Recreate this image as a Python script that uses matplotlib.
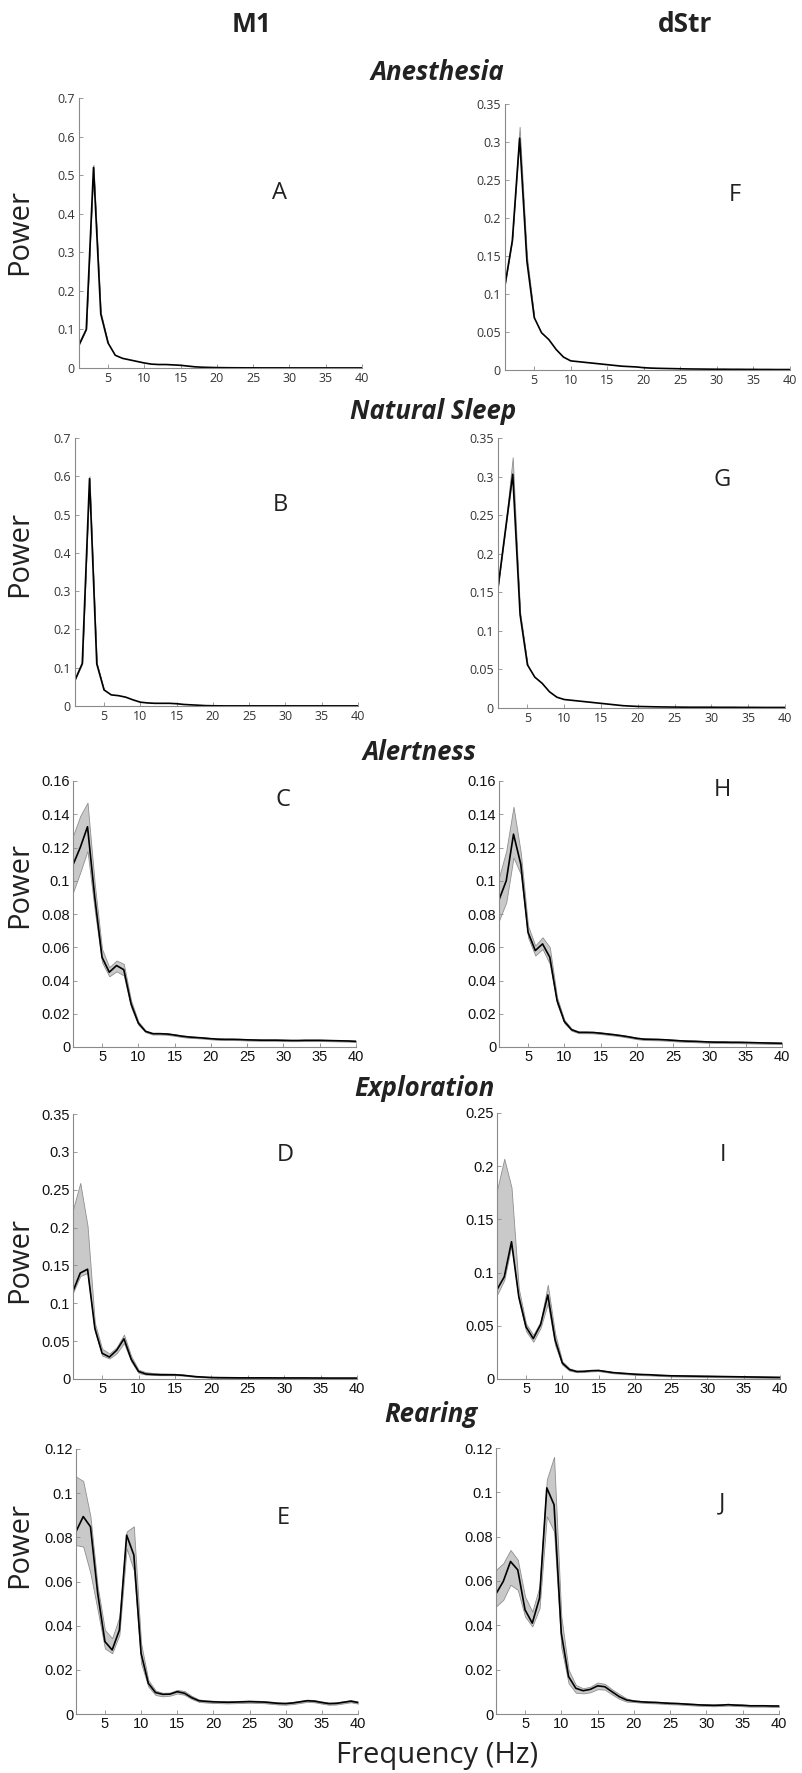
import numpy as np
import matplotlib
matplotlib.use("Agg")
import matplotlib.pyplot as plt

plt.rcParams['font.family'] = ['Liberation Sans', 'DejaVu Sans']

W, H = 802, 1773
freq = list(range(1, 41))

# ---- data (power per 1 Hz bin) ----
# M1 anesthesia (A)
A_mean = [0.06, 0.10, 0.52, 0.14, 0.065, 0.033, 0.025, 0.021, 0.017, 0.013,
          0.010, 0.009, 0.009, 0.008, 0.007, 0.005, 0.003, 0.002, 0.0015, 0.001,
          0.0008, 0.0006, 0.0005, 0.0004, 0.0004, 0.0003, 0.0003, 0.0003, 0.0003, 0.0002,
          0.0002, 0.0002, 0.0002, 0.0002, 0.0002, 0.0002, 0.0002, 0.0002, 0.0002, 0.0002]
A_hi5 = [0.062, 0.102, 0.527, 0.145, 0.066]
# dStr anesthesia (F)
F_mean = [0.112, 0.17, 0.305, 0.143, 0.069, 0.049, 0.04, 0.027, 0.017, 0.012,
          0.011, 0.010, 0.009, 0.008, 0.007, 0.006, 0.005, 0.0045, 0.004, 0.003,
          0.0025, 0.0022, 0.002, 0.0018, 0.0016, 0.0014, 0.0013, 0.0012, 0.0011, 0.001,
          0.001, 0.0009, 0.0009, 0.0008, 0.0008, 0.0007, 0.0007, 0.0006, 0.0006, 0.0006]
F_hi5 = [0.115, 0.175, 0.32, 0.15, 0.071]
# M1 natural sleep (B)
B_mean = [0.068, 0.111, 0.594, 0.11, 0.042, 0.029, 0.027, 0.023, 0.016, 0.01,
          0.008, 0.007, 0.007, 0.007, 0.006, 0.004, 0.003, 0.002, 0.001, 0.0006,
          0.0004, 0.0003, 0.0003, 0.0003, 0.0003, 0.0003, 0.0003, 0.0003, 0.0003, 0.0003,
          0.0003, 0.0003, 0.0003, 0.0003, 0.0003, 0.0003, 0.0003, 0.0003, 0.0003, 0.0003]
B_hi5 = [0.07, 0.113, 0.6, 0.113, 0.043]
# dStr natural sleep (G)
G_mean = [0.156, 0.23, 0.303, 0.121, 0.056, 0.04, 0.032, 0.021, 0.014, 0.011,
          0.01, 0.009, 0.008, 0.007, 0.006, 0.005, 0.004, 0.003, 0.0025, 0.002,
          0.0018, 0.0016, 0.0014, 0.0013, 0.0012, 0.0011, 0.001, 0.001, 0.001, 0.001,
          0.0009, 0.0009, 0.0009, 0.0008, 0.0008, 0.0008, 0.0007, 0.0007, 0.0007, 0.0007]
G_hi5 = [0.16, 0.235, 0.325, 0.125, 0.058]

# M1 alertness (C)
C_mean = [0.1096, 0.12, 0.1325, 0.09, 0.054, 0.045, 0.049, 0.0465, 0.026, 0.0144,
          0.0094, 0.008, 0.008, 0.0078, 0.0072, 0.0065, 0.006, 0.0057, 0.0054, 0.005,
          0.0047, 0.0046, 0.0046, 0.0045, 0.0043, 0.0042, 0.0041, 0.0041, 0.0041, 0.004,
          0.0039, 0.0039, 0.004, 0.004, 0.004, 0.0039, 0.0038, 0.0037, 0.0036, 0.0034]
C_hi = [0.127, 0.139, 0.147, 0.098, 0.059, 0.048, 0.052, 0.05, 0.028, 0.0154,
        0.0099, 0.0085, 0.0085, 0.0083, 0.0077, 0.007, 0.0065, 0.0061, 0.0058, 0.0054,
        0.0051, 0.005, 0.005, 0.0049, 0.0047, 0.0046, 0.0045, 0.0045, 0.0045, 0.0044,
        0.0043, 0.0043, 0.0044, 0.0044, 0.0044, 0.0043, 0.0042, 0.0041, 0.004, 0.0038]
C_lo = [0.093, 0.105, 0.118, 0.082, 0.051, 0.0425, 0.0455, 0.043, 0.024, 0.0134,
        0.0089, 0.0075, 0.0075, 0.0073, 0.0067, 0.006, 0.0055, 0.0053, 0.005, 0.0046,
        0.0043, 0.0042, 0.0042, 0.0041, 0.0039, 0.0038, 0.0037, 0.0037, 0.0037, 0.0036,
        0.0035, 0.0035, 0.0036, 0.0036, 0.0036, 0.0035, 0.0034, 0.0033, 0.0032, 0.003]
# dStr alertness (H)
H_mean = [0.0885, 0.1, 0.128, 0.11, 0.069, 0.058, 0.062, 0.054, 0.028, 0.0154,
          0.0104, 0.0088, 0.0088, 0.0087, 0.0083, 0.0078, 0.0073, 0.0067, 0.006, 0.0052,
          0.0047, 0.0046, 0.0045, 0.0043, 0.004, 0.0037, 0.0035, 0.0034, 0.0032, 0.003,
          0.0029, 0.0029, 0.0028, 0.0028, 0.0027, 0.0026, 0.0025, 0.0024, 0.0023, 0.0022]
H_hi = [0.102, 0.118, 0.1445, 0.117, 0.073, 0.061, 0.066, 0.06, 0.03, 0.0164,
        0.011, 0.0093, 0.0093, 0.0092, 0.0088, 0.0083, 0.0078, 0.0072, 0.0065, 0.0057,
        0.0052, 0.0051, 0.005, 0.0048, 0.0045, 0.0042, 0.004, 0.0039, 0.0037, 0.0035,
        0.0034, 0.0034, 0.0033, 0.0033, 0.0032, 0.0031, 0.003, 0.0029, 0.0028, 0.0027]
H_lo = [0.076, 0.087, 0.114, 0.104, 0.066, 0.055, 0.059, 0.05, 0.026, 0.0144,
        0.0098, 0.0083, 0.0083, 0.0082, 0.0078, 0.0073, 0.0068, 0.0062, 0.0055, 0.0047,
        0.0042, 0.0041, 0.004, 0.0038, 0.0035, 0.0032, 0.003, 0.0029, 0.0027, 0.0025,
        0.0024, 0.0024, 0.0023, 0.0023, 0.0022, 0.0021, 0.002, 0.0019, 0.0018, 0.0017]

# M1 exploration (D)
D_mean = [0.116, 0.14, 0.145, 0.067, 0.034, 0.029, 0.038, 0.053, 0.026, 0.01,
          0.0066, 0.006, 0.0055, 0.0055, 0.0055, 0.005, 0.004, 0.003, 0.0025, 0.002,
          0.0018, 0.0017, 0.0016, 0.0015, 0.0015, 0.0015, 0.0015, 0.0015, 0.0014, 0.0014,
          0.0014, 0.0014, 0.0014, 0.0013, 0.0013, 0.0012, 0.0012, 0.0012, 0.0012, 0.0012]
D_hi = [0.224, 0.259, 0.202, 0.074, 0.04, 0.0335, 0.042, 0.0586, 0.03, 0.0123,
        0.009, 0.008, 0.0075, 0.0073, 0.007, 0.006, 0.0047, 0.0036, 0.003, 0.0025,
        0.0023, 0.0022, 0.0021, 0.002, 0.002, 0.002, 0.002, 0.002, 0.0019, 0.0019,
        0.0019, 0.0019, 0.0019, 0.0018, 0.0018, 0.0017, 0.0017, 0.0017, 0.0017, 0.0017]
D_lo = [0.114, 0.136, 0.14, 0.063, 0.031, 0.027, 0.034, 0.0476, 0.023, 0.008,
        0.0058, 0.0053, 0.005, 0.005, 0.005, 0.0045, 0.0035, 0.0026, 0.0021, 0.0016,
        0.0014, 0.0013, 0.0012, 0.0011, 0.0011, 0.0011, 0.0011, 0.0011, 0.001, 0.001,
        0.001, 0.001, 0.001, 0.0009, 0.0009, 0.0008, 0.0008, 0.0008, 0.0008, 0.0008]
# dStr exploration (I)
I_mean = [0.084, 0.096, 0.129, 0.0775, 0.049, 0.038, 0.051, 0.079, 0.037, 0.015,
          0.0088, 0.007, 0.0072, 0.0078, 0.008, 0.007, 0.006, 0.0055, 0.005, 0.0045,
          0.0042, 0.004, 0.0036, 0.0033, 0.003, 0.0029, 0.0028, 0.0027, 0.0026, 0.0025,
          0.0024, 0.0023, 0.0022, 0.0021, 0.002, 0.0019, 0.0018, 0.0017, 0.0016, 0.0015]
I_hi = [0.1775, 0.207, 0.18, 0.085, 0.052, 0.0415, 0.054, 0.0885, 0.043, 0.0166,
        0.01, 0.0078, 0.0079, 0.0085, 0.0087, 0.0077, 0.0066, 0.0061, 0.0056, 0.0051,
        0.0048, 0.0046, 0.0042, 0.0039, 0.0036, 0.0035, 0.0034, 0.0033, 0.0032, 0.0031,
        0.003, 0.0029, 0.0028, 0.0027, 0.0026, 0.0025, 0.0024, 0.0023, 0.0022, 0.0021]
I_lo = [0.079, 0.093, 0.126, 0.074, 0.045, 0.035, 0.048, 0.071, 0.032, 0.0134,
        0.0078, 0.0064, 0.0066, 0.0072, 0.0074, 0.0064, 0.0054, 0.0049, 0.0044, 0.0039,
        0.0036, 0.0034, 0.003, 0.0027, 0.0024, 0.0023, 0.0022, 0.0021, 0.002, 0.0019,
        0.0018, 0.0017, 0.0016, 0.0015, 0.0014, 0.0013, 0.0012, 0.0011, 0.001, 0.0009]

# M1 rearing (E)
E_mean = [0.0826, 0.0894, 0.0848, 0.0546, 0.0328, 0.029, 0.038, 0.081, 0.072, 0.0275,
          0.0139, 0.0097, 0.0089, 0.009, 0.0101, 0.0094, 0.0074, 0.006, 0.0057, 0.0055,
          0.0054, 0.0053, 0.0054, 0.0055, 0.0056, 0.0055, 0.0054, 0.0051, 0.0048, 0.0047,
          0.005, 0.0055, 0.006, 0.0058, 0.0052, 0.0047, 0.0048, 0.0053, 0.0058, 0.0052]
E_hi = [0.1075, 0.1055, 0.0894, 0.0577, 0.038, 0.0343, 0.044, 0.0826, 0.085, 0.032,
        0.0154, 0.0106, 0.0096, 0.0097, 0.0109, 0.0104, 0.0082, 0.0066, 0.0062, 0.006,
        0.0059, 0.0058, 0.0059, 0.006, 0.0061, 0.006, 0.0059, 0.0056, 0.0053, 0.0052,
        0.0055, 0.006, 0.0065, 0.0063, 0.0057, 0.0052, 0.0053, 0.0058, 0.0063, 0.0057]
E_lo = [0.0765, 0.0758, 0.0637, 0.047, 0.0297, 0.0275, 0.0358, 0.075, 0.065, 0.023,
        0.0124, 0.0086, 0.008, 0.0083, 0.0093, 0.0087, 0.0068, 0.0055, 0.0052, 0.005,
        0.0049, 0.0048, 0.0049, 0.005, 0.0051, 0.005, 0.0049, 0.0046, 0.0043, 0.0042,
        0.0045, 0.005, 0.0055, 0.0053, 0.0047, 0.0042, 0.0043, 0.0048, 0.0053, 0.0047]
# dStr rearing (J)
J_mean = [0.0542, 0.0598, 0.0688, 0.065, 0.047, 0.041, 0.0523, 0.102, 0.0944, 0.0364,
          0.0169, 0.0116, 0.0105, 0.0111, 0.0127, 0.0123, 0.01, 0.0078, 0.0063, 0.0058,
          0.0055, 0.0053, 0.0052, 0.005, 0.0048, 0.0047, 0.0045, 0.0043, 0.0041, 0.004,
          0.0039, 0.004, 0.0042, 0.004, 0.0039, 0.0037, 0.0037, 0.0037, 0.0036, 0.0036]
J_hi = [0.065, 0.068, 0.074, 0.0696, 0.053, 0.0462, 0.0575, 0.1057, 0.116, 0.044,
        0.02, 0.0131, 0.0116, 0.0123, 0.0142, 0.0136, 0.0111, 0.009, 0.007, 0.0062,
        0.0059, 0.0057, 0.0056, 0.0054, 0.0052, 0.0051, 0.0049, 0.0047, 0.0045, 0.0044,
        0.0043, 0.0044, 0.0046, 0.0044, 0.0043, 0.0041, 0.0041, 0.0041, 0.004, 0.004]
J_lo = [0.0485, 0.0515, 0.0583, 0.056, 0.044, 0.0395, 0.0477, 0.0892, 0.0824, 0.03,
        0.0139, 0.0096, 0.0093, 0.0098, 0.0112, 0.011, 0.0088, 0.0068, 0.0056, 0.0054,
        0.0051, 0.0049, 0.0048, 0.0046, 0.0044, 0.0043, 0.0041, 0.0039, 0.0037, 0.0036,
        0.0035, 0.0036, 0.0038, 0.0036, 0.0035, 0.0033, 0.0033, 0.0033, 0.0032, 0.0032]

columns = ["M1", "dStr"]
states = ["Anesthesia", "Natural Sleep", "Alertness", "Exploration", "Rearing"]
xticks = [5, 10, 15, 20, 25, 30, 35, 40]

fig = plt.figure(figsize=(W / 100, H / 100), dpi=100)

LBL = "Open Sans"
AXC = "#8a8a8a"


def fx(x):
    return x / W


def fy(y):
    return 1 - y / H


def panel(box, mean, lo, hi, ymax, ystep, letter, lpos, myriad=False):
    l, t, r, b = box
    ax = fig.add_axes([fx(l), fy(b), (r - l) / W, (b - t) / H])
    n = len(lo)
    ax.fill_between(freq[:n], lo, hi, facecolor="#c9c9c9", edgecolor="#8f8f8f",
                    linewidth=0.6, zorder=1)
    ax.plot(freq, mean, color="black", linewidth=1.2, zorder=2)
    ax.set_xlim(1, 40)
    ax.set_ylim(0, ymax)
    yt = np.round(np.arange(0, ymax + ystep / 2, ystep), 3)
    ax.set_yticks(yt)
    ax.set_yticklabels([("%g" % v) for v in yt])
    ax.set_xticks(xticks)
    for s in ["top", "right"]:
        ax.spines[s].set_visible(False)
    for s in ["left", "bottom"]:
        ax.spines[s].set_color(AXC)
        ax.spines[s].set_linewidth(0.8)
    if myriad:
        ax.tick_params(labelsize=9, colors=AXC, labelcolor="#333333", direction="in",
                       length=3, width=0.6, pad=3)
        for lab in ax.get_xticklabels() + ax.get_yticklabels():
            lab.set_family(LBL)
    else:
        ax.tick_params(labelsize=10.5, colors=AXC, labelcolor="#111111", direction="in",
                       length=3, width=0.6, pad=2)
    fig.text(fx(lpos[0]), fy(lpos[1]), letter, family=LBL, fontsize=17,
             ha="center", va="center", color="#222222")
    return ax


panel((79, 98, 362, 368), A_mean, A_mean[:5], A_hi5, 0.7, 0.1, "A", (280, 193), True)
panel((505, 104, 790, 370), F_mean, F_mean[:5], F_hi5, 0.35, 0.05, "F", (735, 195), True)
panel((75, 438, 358, 706), B_mean, B_mean[:5], B_hi5, 0.7, 0.1, "B", (280, 505), True)
panel((498, 438, 785, 708), G_mean, G_mean[:5], G_hi5, 0.35, 0.05, "G", (722, 480), True)
panel((73, 781, 356, 1047), C_mean, C_lo, C_hi, 0.16, 0.02, "C", (283, 800))
panel((499, 781, 782, 1047), H_mean, H_lo, H_hi, 0.16, 0.02, "H", (722, 790))
panel((73, 1114, 357, 1379), D_mean, D_lo, D_hi, 0.35, 0.05, "D", (285, 1155))
panel((497, 1113, 780, 1379), I_mean, I_lo, I_hi, 0.25, 0.05, "I", (723, 1155))
panel((76, 1449, 358, 1714), E_mean, E_lo, E_hi, 0.12, 0.02, "E", (283, 1518))
panel((496, 1448, 779, 1714), J_mean, J_lo, J_hi, 0.12, 0.02, "J", (722, 1503))

# column headers
fig.text(fx(252), fy(24), columns[0], family=LBL, fontweight="bold", fontsize=19,
         ha="center", va="center", color="#222222")
fig.text(fx(685), fy(24), columns[1], family=LBL, fontweight="bold", fontsize=19,
         ha="center", va="center", color="#222222")

# behavioural state titles
for name, (x, y) in zip(states, [(437, 72), (433, 411), (419, 752), (424, 1089), (431, 1415)]):
    fig.text(fx(x), fy(y), name, family=LBL, fontweight="bold", style="italic",
             fontsize=18.5, ha="center", va="center", color="#222222")

# y labels
for y in [232, 554, 885, 1260, 1545]:
    fig.text(fx(20), fy(y), "Power", family=LBL, fontsize=21, rotation=90,
             ha="center", va="center", color="#222222")

fig.text(fx(437), fy(1756), "Frequency (Hz)", family=LBL, fontsize=21,
         ha="center", va="center", color="#222222")

fig.savefig("out.png", dpi=100)
